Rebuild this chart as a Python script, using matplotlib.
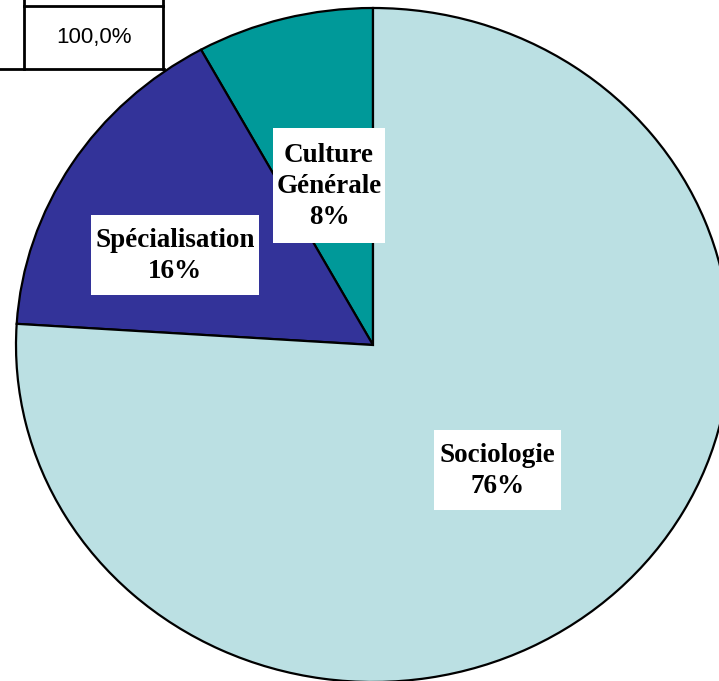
import matplotlib
matplotlib.use("Agg")
import matplotlib.pyplot as plt
from matplotlib.patches import Rectangle

# data
categories = ["Culture\nGénérale", "Spécialisation", "Sociologie"]
shares = [8, 16, 76]
colors = ["#009999", "#333399", "#BBE0E3"]

W, H = 719, 681
fig = plt.figure(figsize=(W / 100, H / 100), dpi=100)

# pie axes, stretched so the pie is a bit wider than tall
ax = fig.add_axes([0, 0, 1, 1])
ax.pie(shares, colors=colors, startangle=90, counterclock=True,
       wedgeprops=dict(edgecolor="black", linewidth=1.6))
ax.set_aspect("auto")
cx, cy, rx, ry = 373, 345, 357, 337
ax.set_xlim(-cx / rx, (W - cx) / rx)
ax.set_ylim((cy - H) / ry, cy / ry)
ax.axis("off")

# overlay in pixel coords for table and label boxes
ov = fig.add_axes([0, 0, 1, 1], zorder=5)
ov.set_xlim(0, W)
ov.set_ylim(H, 0)
ov.axis("off")
ov.patch.set_alpha(0)

# bits of the table in the corner
lw = 2
ov.plot([24, 24], [-2, 69], color="black", lw=lw)
ov.plot([163, 163], [-2, 69], color="black", lw=lw)
ov.plot([24, 163], [6, 6], color="black", lw=lw)
ov.plot([-2, 164], [69, 69], color="black", lw=lw)
total = sum(shares)
ov.text(93.5, 38, f"{total:.1f}%".replace(".", ","), ha="center", va="center",
        fontsize=16, family="Liberation Sans")

# label boxes (x0, y0, x1, y1)
boxes = [(273, 128, 385, 243), (91, 215, 259, 295), (434, 430, 561, 510)]
for name, val, (x0, y0, x1, y1) in zip(categories, shares, boxes):
    ov.add_patch(Rectangle((x0, y0), x1 - x0, y1 - y0, facecolor="white",
                           edgecolor="none"))
    ov.text((x0 + x1) / 2, (y0 + y1) / 2 + 1, f"{name}\n{val}%", ha="center",
            va="center", fontsize=19.5, fontweight="bold",
            family="Liberation Serif", linespacing=1.32)

fig.savefig("out.png", dpi=100)
